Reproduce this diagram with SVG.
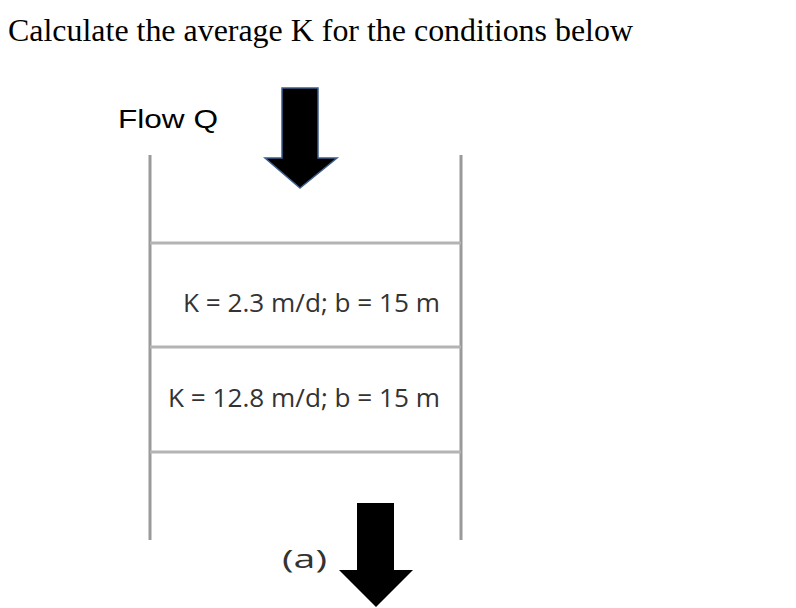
<svg xmlns="http://www.w3.org/2000/svg" width="796" height="608" viewBox="0 0 796 608">
<style>
.wall{stroke:#9a9a9a;stroke-width:3;fill:none}
.layer{stroke:#b4b4b4;stroke-width:3;fill:none}
.lbl{font-family:"Open Sans","Liberation Sans",sans-serif;font-size:25px;fill:#333}
</style>
<rect width="796" height="608" fill="#fff"/>
<text x="8" y="41" font-family="Liberation Serif,serif" font-size="31" fill="#000" textLength="625" lengthAdjust="spacingAndGlyphs">Calculate the average K for the conditions below</text>
<text x="118" y="128" font-family="Liberation Sans,Arial,sans-serif" font-size="26" fill="#000" textLength="100" lengthAdjust="spacingAndGlyphs">Flow Q</text>
<g id="column">
<line class="wall" x1="150" y1="155" x2="150" y2="540"/>
<line class="wall" x1="461" y1="155" x2="461" y2="540"/>
</g>
<g id="layer1">
<line class="layer" x1="150" y1="243" x2="461" y2="243"/>
<line class="layer" x1="150" y1="347" x2="461" y2="347"/>
<text class="lbl" x="183" y="312" textLength="257" lengthAdjust="spacingAndGlyphs">K = 2.3 m/d; b = 15 m</text>
</g>
<g id="layer2">
<line class="layer" x1="150" y1="452" x2="461" y2="452"/>
<text class="lbl" x="168" y="407" textLength="272" lengthAdjust="spacingAndGlyphs">K = 12.8 m/d; b = 15 m</text>
</g>
<g id="label-a">
<text class="lbl" x="282" y="568" font-size="38" textLength="45" lengthAdjust="spacingAndGlyphs">(a)</text>
</g>
<g id="connectors">
<polygon points="282,88 318,88 318,158 337,158 300,188 265,158 282,158" fill="#000" stroke="#3d5f8f" stroke-width="1.5" stroke-linejoin="miter"/>
<polygon points="357,503 394,503 394,570 413,570 376,607 339,570 357,570" fill="#000"/>
</g>
</svg>
